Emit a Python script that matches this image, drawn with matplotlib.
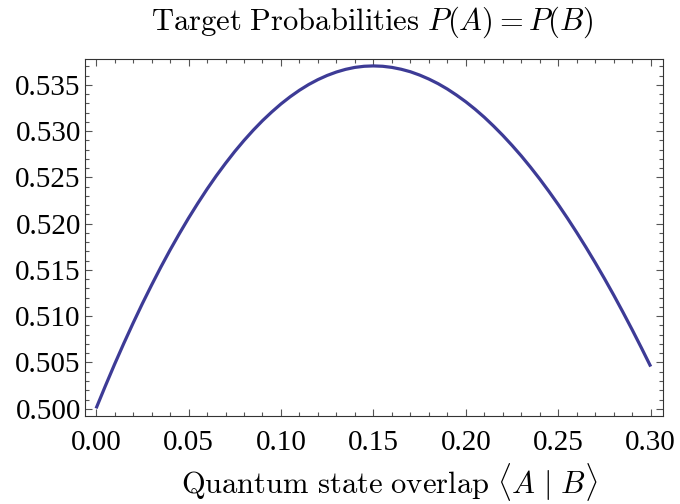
import matplotlib
matplotlib.use("Agg")
import matplotlib.pyplot as plt
from matplotlib.ticker import MultipleLocator, FormatStrFormatter

# overlap values and target probability (0.005 steps)
overlap = [0.000, 0.005, 0.010, 0.015, 0.020, 0.025, 0.030, 0.035, 0.040, 0.045,
           0.050, 0.055, 0.060, 0.065, 0.070, 0.075, 0.080, 0.085, 0.090, 0.095,
           0.100, 0.105, 0.110, 0.115, 0.120, 0.125, 0.130, 0.135, 0.140, 0.145,
           0.150, 0.155, 0.160, 0.165, 0.170, 0.175, 0.180, 0.185, 0.190, 0.195,
           0.200, 0.205, 0.210, 0.215, 0.220, 0.225, 0.230, 0.235, 0.240, 0.245,
           0.250, 0.255, 0.260, 0.265, 0.270, 0.275, 0.280, 0.285, 0.290, 0.295,
           0.300]
prob = [0.50004, 0.50246, 0.50481, 0.50707, 0.50925, 0.51135, 0.51336, 0.51530,
        0.51715, 0.51891, 0.52060, 0.52220, 0.52373, 0.52517, 0.52652, 0.52780,
        0.52899, 0.53010, 0.53113, 0.53207, 0.53294, 0.53372, 0.53442, 0.53504,
        0.53557, 0.53602, 0.53639, 0.53668, 0.53689, 0.53701, 0.53705,
        0.53701, 0.53689, 0.53669, 0.53642, 0.53606, 0.53563, 0.53513, 0.53455,
        0.53389, 0.53317, 0.53237, 0.53150, 0.53055, 0.52954, 0.52846, 0.52732,
        0.52610, 0.52482, 0.52347, 0.52206, 0.52058, 0.51904, 0.51744, 0.51578,
        0.51406, 0.51228, 0.51043, 0.50853, 0.50657, 0.50456]

plt.rcParams["font.family"] = ["Liberation Serif", "DejaVu Serif"]
plt.rcParams["mathtext.fontset"] = "cm"

fig = plt.figure(figsize=(6.8, 5.04), dpi=100)
ax = fig.add_axes([0.125, 0.175, 0.8496, 0.708])

ax.plot(overlap, prob, color="#3d3b96", linewidth=2.3, solid_capstyle="butt")

ax.set_xlim(-0.006, 0.3065)
ax.set_ylim(0.49924, 0.5378)

ax.xaxis.set_major_locator(MultipleLocator(0.05))
ax.xaxis.set_minor_locator(MultipleLocator(0.01))
ax.yaxis.set_major_locator(MultipleLocator(0.005))
ax.yaxis.set_minor_locator(MultipleLocator(0.001))
ax.xaxis.set_major_formatter(FormatStrFormatter("%.2f"))
ax.yaxis.set_major_formatter(FormatStrFormatter("%.3f"))

ax.tick_params(which="both", direction="in", top=True, right=True,
               color="#555555", width=0.8)
ax.tick_params(which="major", length=5, labelsize=21)
ax.tick_params(which="minor", length=3)
ax.tick_params(axis="x", pad=10)
ax.tick_params(axis="y", pad=3)

for s in ax.spines.values():
    s.set_linewidth(0.8)
    s.set_color("#333333")

fig.text(0.548, 1 - 22 / 504, r"$\mathrm{Target\ Probabilities}\ P(A) = P(B)$",
         fontsize=22, ha="center", va="center")
ax.set_xlabel(r"$\mathrm{Quantum\ state\ overlap}\ \langle A\ |\ B\rangle$",
              fontsize=22, va="baseline")
ax.xaxis.set_label_coords(0.527, -0.218)

fig.savefig("out.png", dpi=100)
